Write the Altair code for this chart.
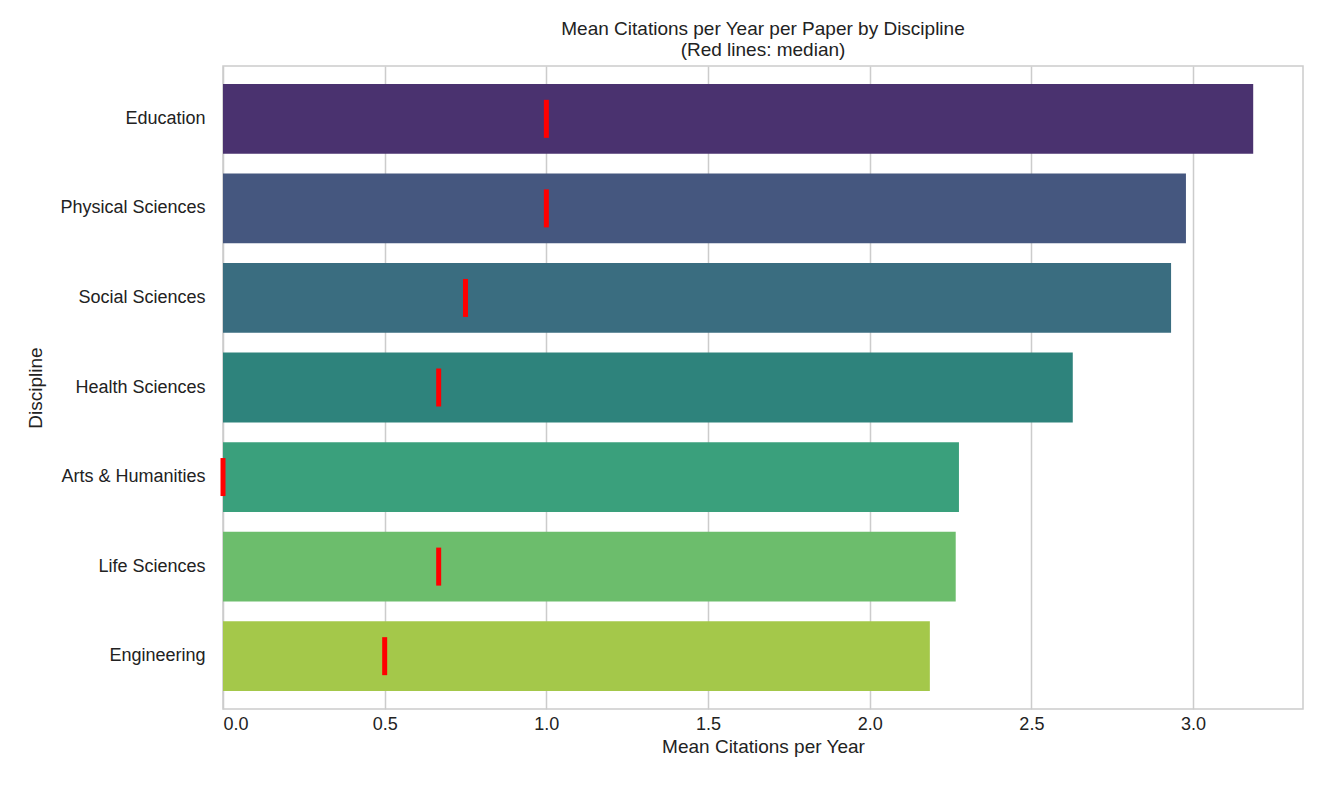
import pandas as pd
import altair as alt

disciplines = ["Education", "Physical Sciences", "Social Sciences", "Health Sciences",
               "Arts & Humanities", "Life Sciences", "Engineering"]
means = [3.186, 2.978, 2.932, 2.628, 2.276, 2.266, 2.186]
medians = [1.0, 1.0, 0.75, 0.667, 0.0, 0.667, 0.5]
colors = ["#4a326f", "#45577f", "#3a6d80", "#2e837c", "#3aa07c", "#6cbd6c", "#a4c84a"]

df = pd.DataFrame({"Discipline": disciplines, "mean": means, "median": medians})

font = "Liberation Sans"
y = alt.Y("Discipline:N", sort=disciplines, title="Discipline",
          scale=alt.Scale(paddingInner=0.22, paddingOuter=0.2))

bars = alt.Chart(df).mark_bar().encode(
    x=alt.X("mean:Q", title="Mean Citations per Year",
            scale=alt.Scale(domain=[0, 3.34], nice=False),
            axis=alt.Axis(values=[0, 0.5, 1.0, 1.5, 2.0, 2.5, 3.0], format=".1f")),
    y=y,
    color=alt.Color("Discipline:N", sort=disciplines,
                    scale=alt.Scale(domain=disciplines, range=colors), legend=None),
)

ticks = alt.Chart(df).mark_tick(color="#ff0000", opacity=1, thickness=5, size=38).encode(
    x="median:Q", y=y
)

chart = (bars + ticks).properties(
    width=1080, height=643,
    padding={"left": 18, "top": 12, "right": 5, "bottom": 5},
    title=alt.TitleParams(["Mean Citations per Year per Paper by Discipline", "(Red lines: median)"],
                          fontSize=19, fontWeight="normal", font=font, color="#222", offset=6),
).configure_view(stroke="#cccccc", strokeWidth=1.5).configure_axis(
    labelFont=font, titleFont=font, labelFontSize=18, titleFontSize=19,
    titleFontWeight="normal", labelColor="#222", titleColor="#222",
    domain=False, ticks=False, labelPadding=10,
).configure_axisX(grid=True, gridColor="#cccccc", gridWidth=1.5, labelPadding=6).configure_axisY(
    grid=False, labelPadding=18, titlePadding=14)

chart.save("out.html", embed_options={"renderer": "svg", "actions": False})
